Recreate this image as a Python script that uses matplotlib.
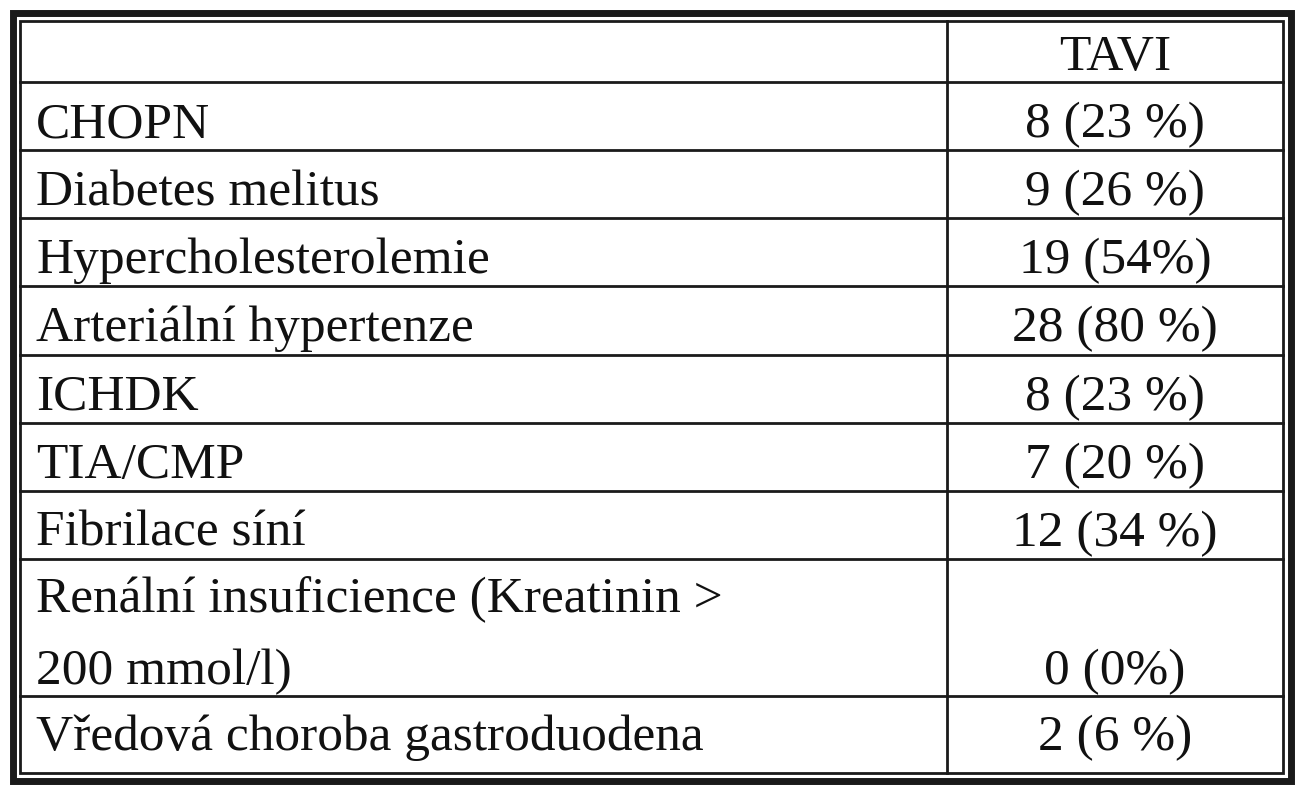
import matplotlib
matplotlib.use("Agg")
import matplotlib.pyplot as plt

header = "TAVI"
labels = ["CHOPN", "Diabetes melitus", "Hypercholesterolemie", "Arteriální hypertenze",
          "ICHDK", "TIA/CMP", "Fibrilace síní",
          "Renální insuficience (Kreatinin >\n200 mmol/l)", "Vředová choroba gastroduodena"]
values = ["8 (23 %)", "9 (26 %)", "19 (54%)", "28 (80 %)", "8 (23 %)", "7 (20 %)",
          "12 (34 %)", "0 (0%)", "2 (6 %)"]

fig = plt.figure(figsize=(13.1, 8), dpi=100)
ax = fig.add_axes([0, 0, 1, 1])
ax.set_xlim(0, 1310); ax.set_ylim(800, 0); ax.axis("off")

# row boundaries (pixels)
bounds = [21, 82, 150, 218, 286, 355, 423, 491, 559, 696, 773]
L, R, C = 20, 1283, 947
col = "#1a1a1a"
# double outer border
ax.add_patch(plt.Rectangle((12.5, 12.5), 1278, 768.5, fill=False, lw=5, ec=col))
ax.add_patch(plt.Rectangle((L, 21), R - L, 773 - 21, fill=False, lw=2, ec=col))
for y in bounds[1:-1]:
    ax.plot([L, R], [y, y], color=col, lw=2)
ax.plot([C, C], [21, 773], color=col, lw=2)

fs = 37
font = dict(family="Liberation Serif", fontsize=fs, color="#111111")
ax.text((C + R) / 2, 70, header, ha="center", va="baseline", **font)
for i, (lab, val) in enumerate(zip(labels, values)):
    top, bot = bounds[i + 1], bounds[i + 2]
    if "\n" in lab:
        l1, l2 = lab.split("\n")
        ax.text(36, top + 53, l1, ha="left", va="baseline", **font)
        ax.text(36, bot - 12, l2, ha="left", va="baseline", **font)
        ax.text((C + R) / 2, bot - 12, val, ha="center", va="baseline", **font)
    else:
        base = top + 55 if i < 8 else top + 54
        ax.text(36, base, lab, ha="left", va="baseline", **font)
        ax.text((C + R) / 2, base, val, ha="center", va="baseline", **font)

fig.savefig("out.png", dpi=100, facecolor="white")
